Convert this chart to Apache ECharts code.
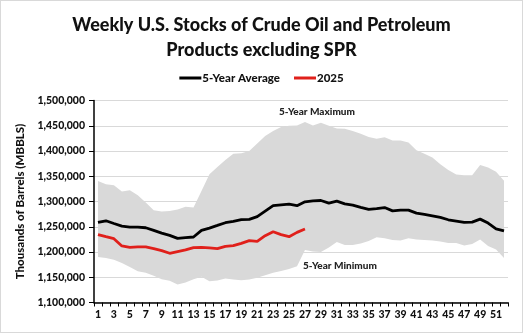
<!DOCTYPE html>
<html><head><meta charset="utf-8">
<script src="https://cdn.jsdelivr.net/npm/echarts@6/dist/echarts.min.js"></script>
<style>
html,body{margin:0;padding:0;background:#fff;}
#c{width:523px;height:333px;box-sizing:border-box;border:1px solid #d9d9d9;}
</style></head><body>
<div id="c"></div>
<script>
const weeks = Array.from({length:52},(_,i)=>String(i+1));
const avg5 = [1258500,1261800,1256500,1251300,1249300,1249300,1248000,1242800,1237500,1233000,1227000,1228400,1229700,1242800,1247400,1252600,1258000,1260500,1264000,1264500,1270000,1281000,1292000,1293400,1294700,1291800,1299300,1301300,1302000,1296700,1300700,1295400,1292800,1288200,1284200,1286000,1288000,1281500,1282800,1282800,1277000,1274300,1271600,1268400,1263800,1261200,1258500,1259200,1265100,1257200,1246000,1242000];
const y2025 = [1234300,1230300,1226400,1212000,1209300,1210000,1210000,1206700,1202800,1197500,1200800,1204100,1208700,1209300,1208000,1206700,1211300,1212600,1217200,1222400,1221100,1232300,1240200,1234300,1230300,1238900,1245400];
const max5 = [1340800,1334300,1332300,1319800,1322400,1312600,1298000,1282800,1280000,1281000,1284000,1289600,1288300,1321000,1354000,1368400,1382000,1394700,1395400,1400000,1415000,1429600,1439500,1447400,1450000,1450700,1457600,1450700,1456000,1450000,1444800,1444000,1439500,1434000,1427800,1424400,1427000,1421000,1421000,1417000,1401300,1394700,1386900,1373800,1362500,1353300,1352000,1352000,1372400,1367200,1358700,1341000];
const min5 = [1190200,1188200,1184900,1178400,1170500,1162000,1158700,1152800,1146200,1143000,1135700,1139600,1146200,1150800,1142300,1143600,1147500,1145500,1144200,1145500,1148800,1154000,1158700,1162600,1166500,1171800,1204000,1201000,1200000,1209000,1220000,1214000,1214000,1217000,1222000,1229000,1227000,1224000,1223000,1227000,1225000,1224000,1223000,1221000,1218000,1218000,1213000,1216000,1225000,1212000,1205000,1188000];
const yTicks = {min:1100000, max:1500000, step:50000};
const bandSpan = max5.map((v,i)=>v-min5[i]);

const chart = echarts.init(document.getElementById('c'));
const F = 'Lato';
chart.setOption({
  animation:false,
  title:{
    text:'Weekly U.S. Stocks of Crude Oil and Petroleum\nProducts excluding SPR',
    left:'center', top:7,
    textStyle:{fontFamily:F,fontWeight:900,fontSize:18,color:'#111',lineHeight:25}
  },
  legend:{
    top:66, left:'center', itemGap:14, itemWidth:22, itemHeight:3,
    data:[{name:'5-Year Average',icon:'rect'},{name:'2025',icon:'rect'}],
    textStyle:{fontFamily:F,fontWeight:900,fontSize:11.5,color:'#111',padding:[0,0,0,-4]}
  },
  grid:{left:93,right:14,top:99.5,bottom:29.5},
  xAxis:{
    type:'category', data:weeks, boundaryGap:true,
    axisLine:{lineStyle:{color:'#000',width:1.5}},
    axisTick:{show:true,interval:0,length:4,lineStyle:{color:'#000',width:1}},
    axisLabel:{interval:1,fontFamily:F,fontWeight:900,fontSize:10.5,color:'#111',margin:7},
    splitLine:{show:false}
  },
  yAxis:{
    type:'value', min:yTicks.min, max:yTicks.max, interval:yTicks.step,
    name:'Thousands of Barrels (MBBLS)', nameLocation:'middle', nameGap:68, nameRotate:90,
    nameTextStyle:{fontFamily:F,fontWeight:900,fontSize:11.5,color:'#111'},
    axisLine:{show:true,lineStyle:{color:'#000',width:1.5}},
    axisTick:{show:true,length:5,lineStyle:{color:'#000',width:1}},
    axisLabel:{fontFamily:F,fontWeight:900,fontSize:10.5,color:'#111',margin:9,
      formatter:v=>v.toLocaleString('en-US')},
    splitLine:{lineStyle:{color:'#d9d9d9',width:1}}
  },
  series:[
    {name:'min',type:'line',data:min5,stack:'band',symbol:'none',lineStyle:{opacity:0},silent:true,z:1},
    {name:'band',type:'line',data:bandSpan,stack:'band',symbol:'none',lineStyle:{opacity:0},
      areaStyle:{color:'#d9d9d9',opacity:1},silent:true,z:1},
    {name:'5-Year Average',type:'line',data:avg5,symbol:'none',color:'#000',lineStyle:{color:'#000',width:2.8},z:3},
    {name:'2025',type:'line',data:y2025,symbol:'none',color:'#e0201b',lineStyle:{color:'#e0201b',width:2.8},z:4}
  ],
  graphic:[
    {type:'text',left:278,top:106,style:{text:'5-Year Maximum',font:'900 10px Lato',fill:'#222'}},
    {type:'text',left:302,top:260,style:{text:'5-Year Minimum',font:'900 10px Lato',fill:'#222'}}
  ]
});
</script></body></html>
